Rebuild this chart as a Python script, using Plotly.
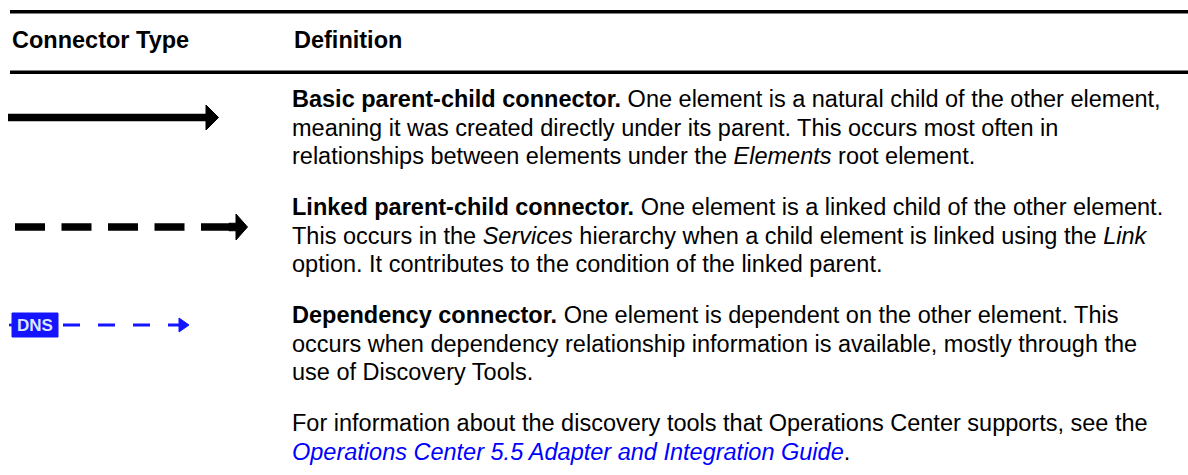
import plotly.graph_objects as go

# ---- data ----
headers = ["Connector Type", "Definition"]
row_lines = [
    ["<b>Basic parent-child connector.</b> One element is a natural child of the other element,",
     "meaning it was created directly under its parent. This occurs most often in",
     "relationships between elements under the <i>Elements</i> root element."],
    ["<b>Linked parent-child connector.</b> One element is a linked child of the other element.",
     "This occurs in the <i>Services</i> hierarchy when a child element is linked using the <i>Link</i>",
     "option. It contributes to the condition of the linked parent."],
    ["<b>Dependency connector.</b> One element is dependent on the other element. This",
     "occurs when dependency relationship information is available, mostly through the",
     "use of Discovery Tools."],
    ["For information about the discovery tools that Operations Center supports, see the",
     "<span style='color:#0000ff'><i>Operations Center 5.5 Adapter and Integration Guide</i></span>."],
]
row_first_y = [99, 207, 315, 423]
line_step = 28.5
connector_y = [117.5, 227, 325]
connector_kind = ["solid", "dashed", "dependency"]

W, H = 1188, 475
FONT = "Liberation Sans, Arial, Helvetica, sans-serif"
FS = 23.5

fig = go.Figure()

# rules
for ry, rw in [(11.7, 3.4), (72.3, 3.4)]:
    fig.add_shape(type="line", x0=10, x1=W, y0=ry, y1=ry, xref="x", yref="y",
                  line=dict(color="#000000", width=rw))

# header
fig.add_annotation(x=10, y=40, text="<b>%s</b>" % headers[0], showarrow=False,
                   xanchor="left", yanchor="middle", font=dict(family=FONT, size=FS, color="#000"))
fig.add_annotation(x=292, y=40, text="<b>%s</b>" % headers[1], showarrow=False,
                   xanchor="left", yanchor="middle", font=dict(family=FONT, size=FS, color="#000"))

# definitions
for lines, y0 in zip(row_lines, row_first_y):
    for i, t in enumerate(lines):
        fig.add_annotation(x=292, y=y0 + i * line_step, text=t, showarrow=False,
                           xanchor="left", yanchor="middle", xshift=-2,
                           font=dict(family=FONT, size=FS, color="#000"))

# connectors
for kind, cy in zip(connector_kind, connector_y):
    if kind == "solid":
        fig.add_trace(go.Scatter(x=[8, 209], y=[cy, cy], mode="lines",
                                 line=dict(color="#000", width=7.5), hoverinfo="skip"))
        fig.add_trace(go.Scatter(x=[206, 218.5, 206, 206], y=[cy - 12.5, cy, cy + 12.5, cy - 12.5],
                                 mode="lines", fill="toself", fillcolor="#000",
                                 line=dict(color="#000", width=1), hoverinfo="skip"))
    elif kind == "dashed":
        fig.add_trace(go.Scatter(x=[15, 231], y=[cy, cy], mode="lines",
                                 line=dict(color="#000", width=7.5, dash="30px,16.5px"),
                                 hoverinfo="skip"))
        fig.add_trace(go.Scatter(x=[229, 236, 236, 247.5, 236, 236, 229, 229],
                                 y=[cy - 3.75, cy - 3.75, cy - 13, cy, cy + 13, cy + 3.75, cy + 3.75, cy - 3.75],
                                 mode="lines", fill="toself", fillcolor="#000",
                                 line=dict(color="#000", width=1), hoverinfo="skip"))
    else:
        blue = "#1414ff"
        fig.add_shape(type="rect", x0=12, x1=58, y0=cy - 12, y1=cy + 12, xref="x", yref="y",
                      fillcolor=blue, line=dict(color=blue, width=1))
        fig.add_trace(go.Scatter(x=[9, 13], y=[cy, cy], mode="lines",
                                 line=dict(color=blue, width=2.7), hoverinfo="skip"))
        fig.add_annotation(x=35, y=cy, text="<b>DNS</b>", showarrow=False,
                           xanchor="center", yanchor="middle",
                           font=dict(family=FONT, size=17, color="#dde6ff"))
        fig.add_trace(go.Scatter(x=[63, 184], y=[cy, cy], mode="lines",
                                 line=dict(color=blue, width=2.8, dash="17px,18px"),
                                 hoverinfo="skip"))
        fig.add_trace(go.Scatter(x=[179, 189, 179, 179], y=[cy - 7, cy, cy + 7, cy - 7],
                                 mode="lines", fill="toself", fillcolor=blue,
                                 line=dict(color=blue, width=1), hoverinfo="skip"))

fig.update_layout(
    width=W, height=H, autosize=False,
    margin=dict(l=0, r=0, t=0, b=0),
    paper_bgcolor="#ffffff", plot_bgcolor="#ffffff",
    showlegend=False,
    xaxis=dict(range=[0, W], visible=False, fixedrange=True),
    yaxis=dict(range=[H, 0], visible=False, fixedrange=True),
)

fig.write_html("out.html", config={"displayModeBar": False},
               post_script="document.body.style.margin='0';document.body.style.overflow='hidden';")
